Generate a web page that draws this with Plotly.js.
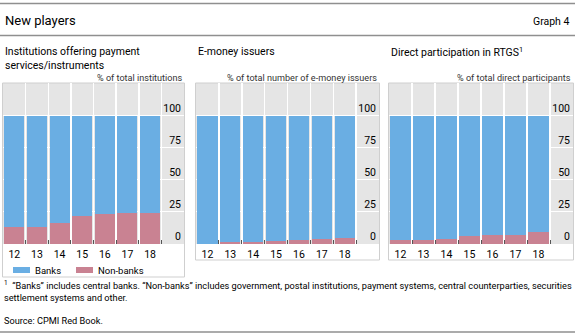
<!DOCTYPE html>
<html><head><meta charset="utf-8">
<script src="https://cdn.plot.ly/plotly-3.0.1.min.js"></script>
<style>html,body{margin:0;padding:0;background:#fff}#chart{width:575px;height:336px}</style>
</head><body><div id="chart"></div><script>
// ---- data ----
const years = ['12','13','14','15','16','17','18'];
const seriesNames = ['Banks','Non-banks'];
const psBanks    = [86.5, 86.8, 83.4, 78.2, 76.4, 75.8, 75.8];
const psNonBanks = [13.5, 13.2, 16.6, 21.8, 23.6, 24.2, 24.2];
const emBanks    = [99.7, 98.5, 98.3, 97.5, 96.7, 96.2, 95.7];
const emNonBanks = [0.3, 1.5, 1.7, 2.5, 3.3, 3.8, 4.3];
const rtBanks    = [96.9, 96.9, 96.1, 93.8, 93.2, 93.2, 90.4];
const rtNonBanks = [3.1, 3.1, 3.9, 6.2, 6.8, 6.8, 9.6];
const yTicks = [0, 25, 50, 75, 100];
const panelTitles = ['Institutions offering payment<br>services/instruments', 'E-money issuers', 'Direct participation in RTGS<sup>1</sup>'];
const panelUnits = ['% of total institutions', '% of total number of e-money issuers', '% of total direct participants'];
const panelData = [[psBanks, psNonBanks], [emBanks, emNonBanks], [rtBanks, rtNonBanks]];

// ---- layout constants ----
const W = 575, H = 336;
const px = x => x / W, py = y => 1 - y / H;
const BLUE = '#6aaee3', PINK = '#c98292', GRAY = '#e5e5e5';
const FONT = 'Roboto, Open Sans, sans-serif';
const panelX = [[3, 184], [196, 379], [389, 573]];
const plotTop = 83, plotBottom = 244;
const boxBottoms = [277, 260, 260];

const xIdx = years.map((_, i) => i);
const bounds = years.map((_, i) => i + 0.5);

const traces = [];
const layout = {
  width: W, height: H,
  margin: {l: 0, r: 0, t: 0, b: 0},
  paper_bgcolor: '#fff', plot_bgcolor: GRAY,
  barmode: 'stack', bargap: 0.12, showlegend: false,
  font: {family: FONT, color: '#000', size: 11},
  shapes: [], annotations: []
};

panelData.forEach((pd, k) => {
  const suf = k === 0 ? '' : String(k + 1);
  const xa = 'x' + suf, ya = 'y' + suf;
  traces.push({type: 'bar', x: xIdx, y: pd[1], name: seriesNames[1], marker: {color: PINK, line: {width: 0}}, xaxis: xa, yaxis: ya, hoverinfo: 'skip'});
  traces.push({type: 'bar', x: xIdx, y: pd[0], name: seriesNames[0], marker: {color: BLUE, line: {width: 0}}, xaxis: xa, yaxis: ya, hoverinfo: 'skip'});
  layout['xaxis' + suf] = {
    domain: [px(panelX[k][0]), px(panelX[k][1])], anchor: ya,
    range: [-0.5, years.length + 0.5], fixedrange: true,
    tickmode: 'array', tickvals: xIdx, ticktext: years, ticks: '',
    showgrid: false, zeroline: false, showline: false,
    tickfont: {size: 10.5, color: '#000'}, ticklabelstandoff: 2,
    minor: {tickmode: 'array', tickvals: bounds, ticks: 'inside', ticklen: 4, tickcolor: '#555', tickwidth: 1, showgrid: true, gridcolor: '#fff', gridwidth: 1.5}
  };
  layout['yaxis' + suf] = {
    domain: [py(plotBottom), py(plotTop)], anchor: xa, side: 'right',
    range: [0, 125.5], fixedrange: true,
    tickmode: 'array', tickvals: yTicks, ticks: '',
    ticklabelposition: 'inside top',
    showgrid: true, gridcolor: '#fff', gridwidth: 1, zeroline: false, showline: false,
    tickfont: {size: 10.5, color: '#000'}
  };
  layout.shapes.push({type: 'rect', xref: 'paper', yref: 'paper', x0: px(panelX[k][0] - 0.5), x1: px(panelX[k][1] + 0.5), y0: py(boxBottoms[k]), y1: py(plotTop), line: {color: '#cfcfcf', width: 1}, fillcolor: 'rgba(0,0,0,0)', layer: 'below'});
  layout.annotations.push({xref: 'paper', yref: 'paper', x: px(panelX[k][0]), y: py(43), xanchor: 'left', yanchor: 'top', align: 'left', showarrow: false, text: panelTitles[k], font: {size: 10.5, color: '#000'}});
  layout.annotations.push({xref: 'paper', yref: 'paper', x: px(panelX[k][1]), y: py(78), xanchor: 'right', yanchor: 'middle', showarrow: false, text: panelUnits[k], font: {size: 9.1, color: '#333'}});
});

[3.5, 35.5, 332].forEach(y => layout.shapes.push({type: 'line', xref: 'paper', yref: 'paper', x0: 0, x1: 1, y0: py(y), y1: py(y), line: {color: '#8f8f8f', width: 1.3}}));

layout.annotations.push({xref: 'paper', yref: 'paper', x: px(3), y: py(20), xanchor: 'left', yanchor: 'middle', showarrow: false, text: 'New players', font: {size: 13, color: '#000'}});
layout.annotations.push({xref: 'paper', yref: 'paper', x: px(572), y: py(21), xanchor: 'right', yanchor: 'middle', showarrow: false, text: 'Graph 4', font: {size: 10.5, color: '#000'}});

const legendItems = [{name: seriesNames[0], color: BLUE, x: 13}, {name: seriesNames[1], color: PINK, x: 76}];
legendItems.forEach(it => {
  layout.shapes.push({type: 'rect', xref: 'paper', yref: 'paper', x0: px(it.x), x1: px(it.x + 17), y0: py(273), y1: py(267), line: {width: 0}, fillcolor: it.color});
  layout.annotations.push({xref: 'paper', yref: 'paper', x: px(it.x + 20), y: py(270), xanchor: 'left', yanchor: 'middle', showarrow: false, text: it.name, font: {size: 9.5, color: '#000'}});
});

const foot1 = '<sup>1</sup>  “Banks” includes central banks. “Non-banks” includes government, postal institutions, payment systems, central counterparties, securities<br>settlement systems and other.';
layout.annotations.push({xref: 'paper', yref: 'paper', x: px(2), y: py(277), xanchor: 'left', yanchor: 'top', align: 'left', showarrow: false, text: foot1, font: {size: 9.2, color: '#000'}});
layout.annotations.push({xref: 'paper', yref: 'paper', x: px(2), y: py(320), xanchor: 'left', yanchor: 'middle', align: 'left', showarrow: false, text: 'Source: CPMI Red Book.', font: {size: 9.2, color: '#000'}});

Plotly.newPlot('chart', traces, layout, {staticPlot: true, displayModeBar: false});
</script></body></html>
